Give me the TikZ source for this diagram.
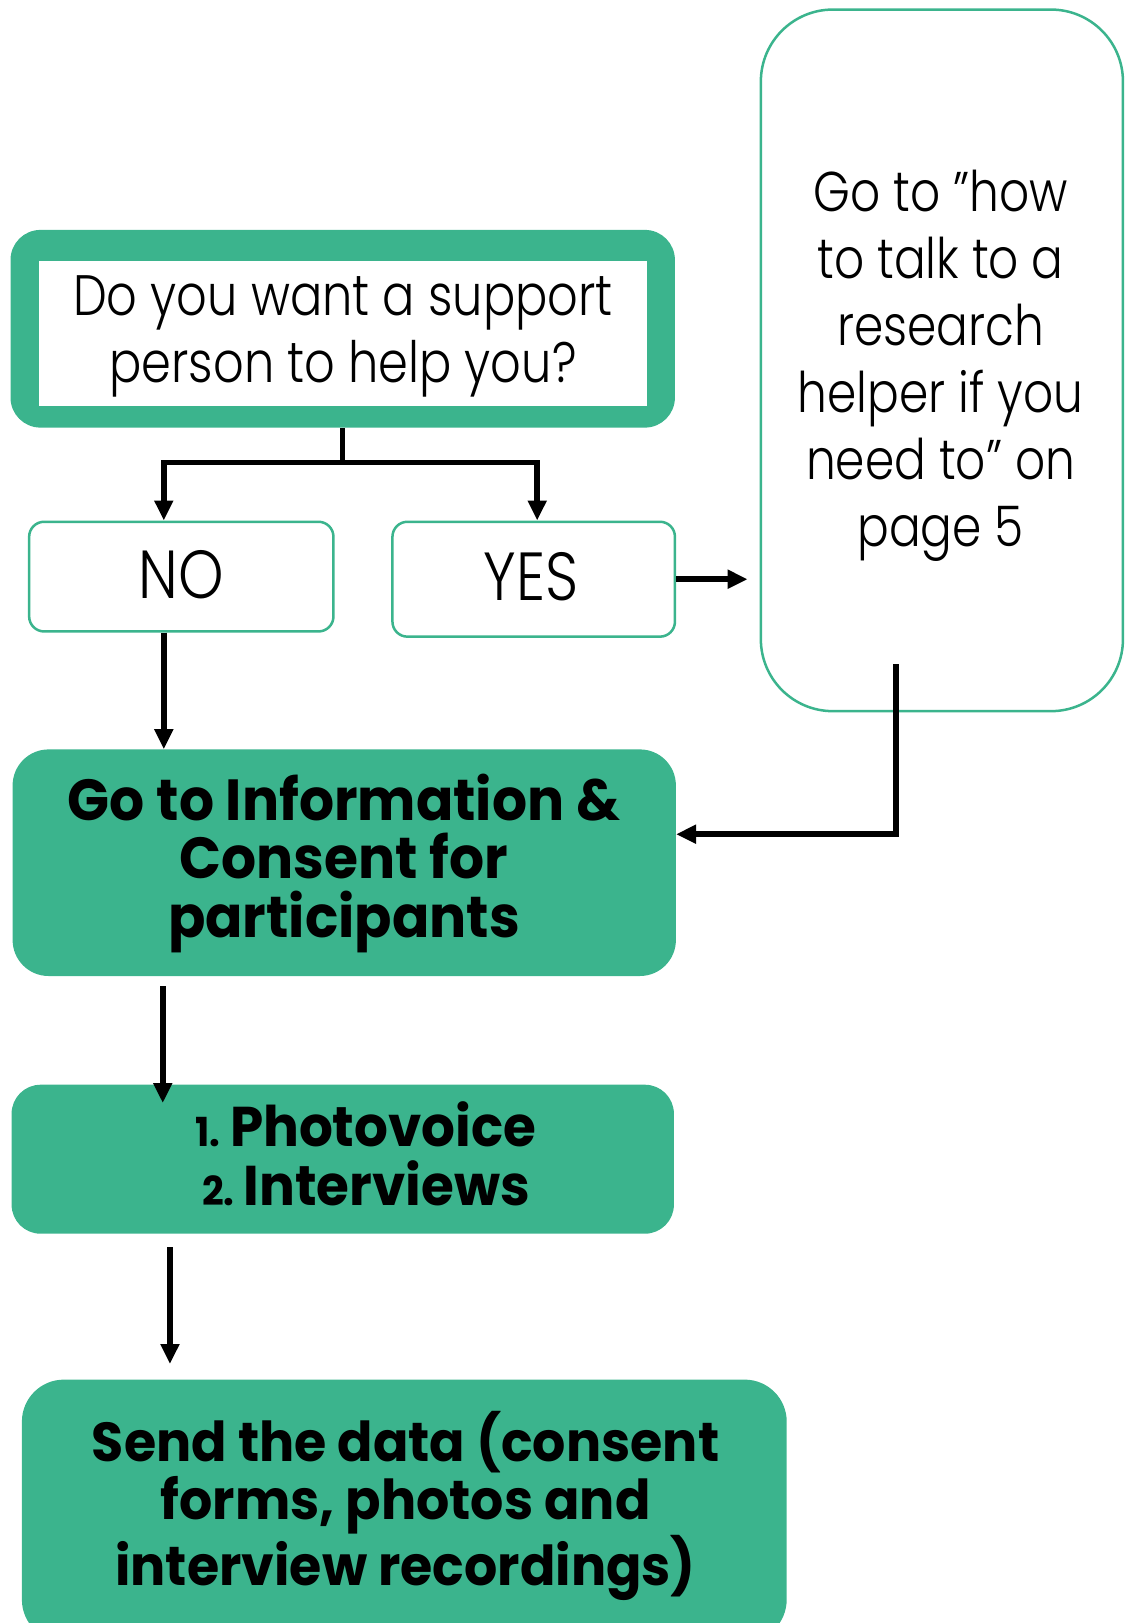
\documentclass[tikz,border=0pt]{standalone}
\usepackage{fontspec}
\setmainfont{Poppins}
\newfontfamily\lightf{Poppins Light}[FakeStretch=0.84]
\newfontfamily\lightg{Poppins Light}[FakeStretch=0.85]
\newfontfamily\boldf{Poppins Bold}[FakeStretch=0.95]
\usetikzlibrary{arrows.meta}
\definecolor{grn}{RGB}{59,180,141}
\tikzset{
  line/.style={line width=5.5pt},
  conn/.style={line width=5.5pt, -{Triangle[length=20pt,width=18pt]}},
  thinbox/.style={draw=grn, line width=2.5pt, rounded corners=#1, fill=white, anchor=north west, inner sep=0},
  greenbox/.style={fill=grn, rounded corners=#1, anchor=north west, inner sep=0},
  lighttext/.style={font=\lightf\fontsize{#1}{67}\selectfont, align=center, inner sep=0},
  boldtext/.style={font=\boldf\fontsize{#1}{58.5}\selectfont, align=center, inner sep=0},
}
\begin{document}
\begin{tikzpicture}[x=1pt,y=-1pt]
\useasboundingbox (0,0) rectangle (1131,1623);
\clip (0,0) rectangle (1131,1623);

% question box
\node[greenbox=30pt, minimum width=664.4pt, minimum height=197.7pt] (q) at (10.3,229.7) {};
\node[fill=white, anchor=north west, inner sep=0, minimum width=608.5pt, minimum height=144.8pt] (qin) at (38.3,260.8) {};
\node[lighttext=57] (qt) at (343,336) {Do you want a support\\person to help you?};

% answer boxes
\node[thinbox=15pt, minimum width=304.3pt, minimum height=109.7pt] (no) at (27.9,520.5) {};
\node[font=\lightg\fontsize{68}{70}\selectfont, inner sep=0] (not) at (181,575) {NO};
\node[thinbox=15pt, minimum width=282.5pt, minimum height=114.9pt] (yes) at (391.2,520.5) {};
\node[font=\lightg\fontsize{68}{70}\selectfont, inner sep=0] (yest) at (531,577) {YES};

% helper box
\node[thinbox=72pt, minimum width=362.1pt, minimum height=701.6pt] (help) at (759.6,8.3) {};
\node[lighttext=56] (helpt) at (940.6,366) {Go to ”how\\to talk to a\\research\\helper if you\\need to” on\\page 5};

% green boxes
\node[greenbox=36pt, minimum width=663.3pt, minimum height=226.6pt] (b1) at (12.4,749.2) {};
\node[boldtext=58] (b1t) at (344,863) {Go to Information \&\\Consent for\\participants};
\node[greenbox=29pt, minimum width=662.3pt, minimum height=149pt] (b2) at (11.4,1084.5) {};
\node[boldtext=56] (b2t) at (366,1154) {{\fontsize{40}{40}\selectfont 1.}\,Photovoice\\{\fontsize{40}{40}\selectfont 2.}\,Interviews};
\node[greenbox=42pt, minimum width=764.8pt, minimum height=262pt] (b3) at (21.7,1379.4) {};
\node[boldtext=55] (b3t) at (405.6,1506) {Send the data (consent\\forms, photos and\\interview recordings)};

% connectors
\coordinate (split) at (0,462.6);
\draw[line] (q.south) -- (q.south |- split);
\draw[conn] (q.south |- split) -| ([xshift=-17.5pt]no.north);
\draw[conn] (q.south |- split) -| ([xshift=3.5pt]yes.north);
\draw[conn, shorten >=12pt] (yes.east) -- (help.west |- yes.east);
\coordinate (hstart) at (896.2,664.3);
\draw[conn] (hstart) |- ([yshift=28.5pt]b1.east);
\draw[conn] ([xshift=-17.5pt]no.south) -- ([xshift=-17.5pt]no.south |- b1.north);
\draw[conn, shorten <=10pt, shorten >=-18.5pt] ([xshift=-181.5pt]b1.south) -- ([xshift=-181.5pt]b1.south |- b2.north);
\draw[conn, shorten <=13.5pt, shorten >=15.4pt] ([xshift=-172.8pt]b2.south) -- ([xshift=-172.8pt]b2.south |- b3.north);
\end{tikzpicture}
\end{document}
